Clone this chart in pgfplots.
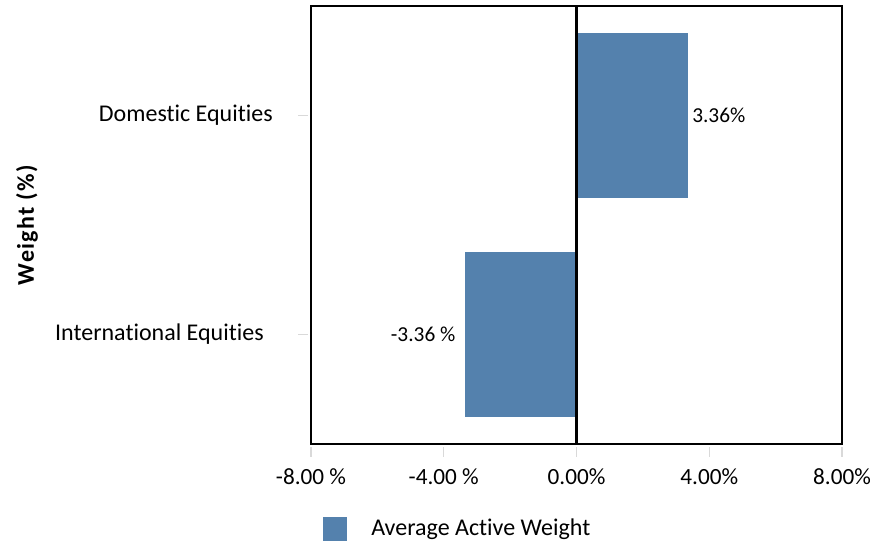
\documentclass[border=0pt]{standalone}
\usepackage{fontspec}
\setmainfont{Carlito}[Ligatures={NoCommon}]
\usepackage{pgfplots}
\pgfplotsset{compat=1.18}
\definecolor{barblue}{HTML}{5481AD}
\definecolor{tickgray}{HTML}{D9D9D9}
\begin{document}
\fontsize{18}{21}\selectfont
\begin{tikzpicture}
\begin{axis}[
  scale only axis, width=398.25pt, height=328.5pt,
  clip=false,
  xbar, bar width=0.753, bar shift=0pt,
  xmin=-8, xmax=8, ymin=-0.5, ymax=1.5,
  xtick={-8,-4,0,4,8},
  xticklabels={-8.00 \%,-4.00 \%,0.00\%,4.00\%,8.00\%},
  ytick={0,1},
  yticklabels={International Equities\kern6.75pt, Domestic Equities},
  xtick pos=lower, ytick pos=left,
  tick align=outside, major tick length=7pt,
  tick style={draw=tickgray, line width=1pt},
  xtick style={yshift=-2.5pt},
  ytick style={xshift=-2.5pt},
  axis line style={line width=1.2pt},
  xticklabel style={yshift=-5pt, font=\fontsize{17.4}{20}\selectfont},
  yticklabel style={xshift=-15.5pt},
  ylabel={\addfontfeature{LetterSpace=6}\bfseries Weight (\%)},
  ylabel style={at={(rel axis cs:-0.535,0.5)}, anchor=center},
  every node near coord/.append style={font=\fontsize{16}{19}\selectfont, inner sep=3pt, black},
  legend style={at={(rel axis cs:0.0226,-0.195)}, anchor=west, draw=none, inner sep=0pt, fill=none},
  legend image code/.code={\fill[barblue] (0pt,-9pt) rectangle (18pt,9pt); \path (34pt,0pt);},
]
\addplot[fill=barblue, draw=none, nodes near coords, point meta=explicit symbolic,
  every node near coord/.append style={anchor=west}] coordinates {
  (3.36,1) [3.36\%]
};
\addplot[fill=barblue, draw=none, nodes near coords, point meta=explicit symbolic,
  every node near coord/.append style={anchor=east, xshift=-4pt}, forget plot] coordinates {
  (-3.36,0) [-3.36 \%]
};
\legend{Average Active Weight}
% zero reference line
\draw[black, line width=2pt] (axis cs:0,-0.5) -- (axis cs:0,1.5);
\coordinate (bbl) at (rel axis cs:-0.5857,-0.235);
\coordinate (btr) at (rel axis cs:1.0527,1.0137);
\end{axis}
\pgfresetboundingbox
\path[use as bounding box] (bbl) rectangle (btr);
\end{tikzpicture}
\end{document}
